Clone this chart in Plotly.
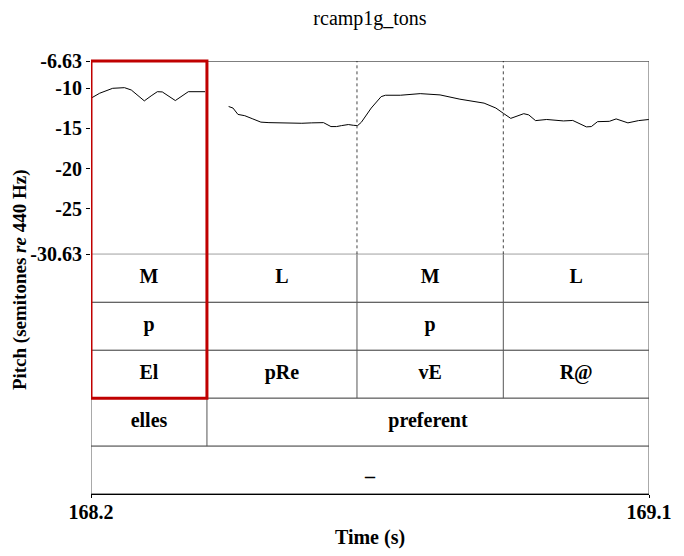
import plotly.graph_objects as go

# ---- data ----
# pitch track (time in s, semitones re 440 Hz), two voiced stretches
pitch_t_1 = [168.200, 168.214, 168.235, 168.254, 168.265, 168.286, 168.297, 168.307,
             168.315, 168.336, 168.357, 168.384]
pitch_st_1 = [-11.25, -10.63, -10.02, -9.94, -10.23, -11.58, -10.96, -10.44,
              -10.47, -11.54, -10.44, -10.44]

pitch_t_2 = [168.422, 168.429, 168.437, 168.448, 168.461, 168.474, 168.487, 168.514,
             168.540, 168.556, 168.575, 168.587, 168.596, 168.604, 168.615, 168.623,
             168.630, 168.636, 168.652, 168.668, 168.675, 168.699, 168.731, 168.763,
             168.795, 168.834, 168.853, 168.865, 168.877, 168.898, 168.906, 168.917,
             168.935, 168.962, 168.977, 168.999, 169.007, 169.017, 169.036, 169.047,
             169.066, 169.083, 169.100]
pitch_st_2 = [-12.28, -12.47, -13.26, -13.42, -13.82, -14.22, -14.28, -14.36,
              -14.36, -14.31, -14.28, -14.77, -14.77, -14.65, -14.52, -14.61,
              -14.65, -14.24, -12.47, -11.05, -10.88, -10.88, -10.68, -10.84,
              -11.37, -11.86, -12.47, -13.12, -13.75, -13.17, -13.32, -14.03,
              -13.89, -14.07, -14.01, -14.81, -14.77, -14.16, -14.12, -13.82,
              -14.31, -14.03, -13.89]

# annotation tiers (top to bottom)
tone_bounds = [168.2, 168.387, 168.629, 168.865, 169.1]
tone_labels = ["M", "L", "M", "L"]
phrase_labels = ["p", "", "p", ""]
syll_labels = ["El", "pRe", "vE", "R@"]
word_bounds = [168.2, 168.387, 169.1]
word_labels = ["elles", "preferent"]
misc_bounds = [168.2, 169.1]
misc_labels = ["_"]

y_ticks = [-6.63, -10, -15, -20, -25, -30.63]
x_ticks = [168.2, 169.1]

# ---- figure ----
FONT = "Liberation Serif, Times New Roman, serif"
split = 0.5535   # pitch panel above, tiers below
x0, x1 = x_ticks[0], x_ticks[-1]

tiers = [
    (tone_bounds, tone_labels),
    (tone_bounds, phrase_labels),
    (tone_bounds, syll_labels),
    (word_bounds, word_labels),
    (misc_bounds, misc_labels),
]
n_tiers = len(tiers)

fig = go.Figure()

# pitch curve
fig.add_trace(go.Scatter(
    x=pitch_t_1 + [None] + pitch_t_2,
    y=pitch_st_1 + [None] + pitch_st_2,
    mode="lines", line=dict(color="black", width=1),
    xaxis="x", yaxis="y", hoverinfo="skip", showlegend=False,
))

shapes = []
tx, ty, tt = [], [], []
for i, (bounds, labels) in enumerate(tiers):
    top = n_tiers - i
    bot = top - 1
    shapes.append(dict(type="line", xref="x", yref="y2", x0=x0, x1=x1, y0=bot, y1=bot,
                       line=dict(color="#333333", width=1)))
    for b in bounds:
        shapes.append(dict(type="line", xref="x", yref="y2", x0=b, x1=b, y0=bot, y1=top,
                           line=dict(color="#555555", width=1)))
    for j, lab in enumerate(labels):
        tx.append((bounds[j] + bounds[j + 1]) / 2)
        ty.append(bot + 0.5)
        tt.append(lab)

fig.add_trace(go.Scatter(
    x=tx, y=ty, text=tt, mode="text",
    textfont=dict(family=FONT, size=20, color="black", weight="bold"),
    xaxis="x", yaxis="y2", hoverinfo="skip", showlegend=False,
))

# dotted boundaries through the pitch panel
for b in tone_bounds[1:-1]:
    shapes.append(dict(type="line", xref="x", yref="y", x0=b, x1=b,
                       y0=y_ticks[-1], y1=y_ticks[0],
                       line=dict(color="#444444", width=1, dash="dot")))

# pitch panel frame
shapes.append(dict(type="line", xref="x", yref="y", x0=x0, x1=x1, y0=y_ticks[0], y1=y_ticks[0],
                   line=dict(color="black", width=1)))
shapes.append(dict(type="line", xref="x", yref="y", x0=x0, x1=x1, y0=y_ticks[-1], y1=y_ticks[-1],
                   line=dict(color="black", width=1)))
shapes.append(dict(type="line", xref="x", yref="y", x0=x0, x1=x0, y0=y_ticks[-1], y1=y_ticks[0],
                   line=dict(color="black", width=1)))
shapes.append(dict(type="line", xref="x", yref="y", x0=x1, x1=x1, y0=y_ticks[-1], y1=y_ticks[0],
                   line=dict(color="#555555", width=1)))

# red highlight box
shapes.append(dict(type="rect", xref="x", yref="paper", x0=x0, x1=tone_bounds[1],
                   y0=split * 2 / n_tiers, y1=1,
                   line=dict(color="#c00000", width=3)))

# the page body adds an 8 px offset, so the figure is 8 px smaller and margins shifted
fig.update_layout(
    width=676, height=548,
    margin=dict(l=83, r=27, t=53, b=56),
    paper_bgcolor="white", plot_bgcolor="white",
    font=dict(family=FONT, color="black"),
    title=dict(text="rcamp1g_tons", x=0.5, xref="paper", y=1 - 10 / 548, yref="container",
               xanchor="center", yanchor="middle", font=dict(family=FONT, size=20)),
    xaxis=dict(domain=[0, 1], range=[x0, x1], anchor="y2",
               tickvals=x_ticks, ticktext=[f"<b>{v}</b>" for v in x_ticks],
               ticks="outside", ticklen=3, tickcolor="black",
               tickfont=dict(family=FONT, size=20), ticklabelstandoff=-3,
               showline=True, linecolor="black", linewidth=1,
               showgrid=False, zeroline=False,
               title=dict(text="<b>Time (s)</b>", font=dict(family=FONT, size=20), standoff=7)),
    yaxis=dict(domain=[split, 1], range=[y_ticks[-1], y_ticks[0]], anchor="x",
               tickvals=y_ticks, ticktext=[f"<b>{v:g}</b>" for v in y_ticks],
               ticks="outside", ticklen=4, tickcolor="black",
               tickfont=dict(family=FONT, size=20),
               showgrid=False, zeroline=False, showline=False),
    yaxis2=dict(domain=[0, split], range=[0, n_tiers], anchor="x",
                showticklabels=False, showgrid=False, zeroline=False, showline=False),
    shapes=shapes,
    annotations=[dict(text="<b>Pitch (semitones <i>re</i> 440 Hz)</b>", xref="paper", yref="paper",
                      x=0, xshift=-71, y=0.494, textangle=-90, showarrow=False,
                      xanchor="center", yanchor="middle", font=dict(family=FONT, size=19))],
    showlegend=False,
)

fig.write_html("out.html")
